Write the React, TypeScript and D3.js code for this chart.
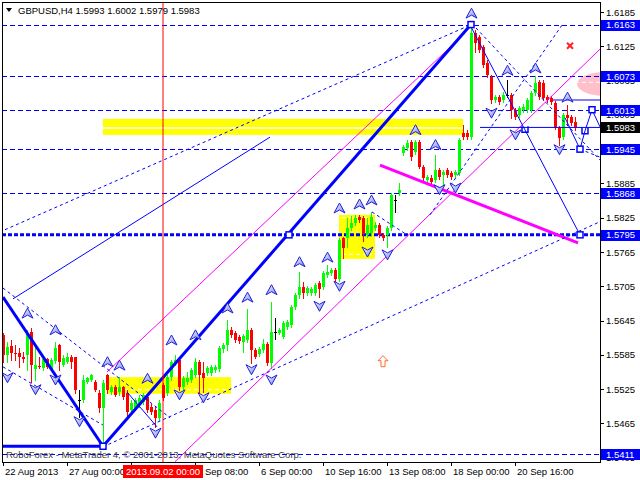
import * as d3 from 'd3';

// GBPUSD H4 candles (bar 0 = 22 Aug 2013 00:00)
const opens = [
  1.5620, 1.5585, 1.5601, 1.5588, 1.5588, 1.5581, 1.5585, 1.5625, 1.5560, 1.5566,
  1.5562, 1.5578, 1.5560, 1.5574, 1.5602, 1.5567, 1.5573, 1.5581, 1.5581, 1.5506,
  1.5506, 1.5538, 1.5541, 1.5538, 1.5518, 1.5492, 1.5550, 1.5520, 1.5529, 1.5520,
  1.5529, 1.5518, 1.5489, 1.5492, 1.5497, 1.5503, 1.5511, 1.5494, 1.5489, 1.5475,
  1.5532, 1.5518, 1.5546, 1.5571, 1.5576, 1.5529, 1.5538, 1.5541, 1.5550, 1.5573,
  1.5553, 1.5553, 1.5553, 1.5559, 1.5560, 1.5595, 1.5602, 1.5628, 1.5623, 1.5616,
  1.5608, 1.5611, 1.5628, 1.5594, 1.5587, 1.5594, 1.5604, 1.5571, 1.5625, 1.5623,
  1.5616, 1.5634, 1.5637, 1.5669, 1.5690, 1.5704, 1.5693, 1.5693, 1.5693, 1.5711,
  1.5704, 1.5725, 1.5728, 1.5734, 1.5718, 1.5790, 1.5790, 1.5807, 1.5816, 1.5826,
  1.5825, 1.5795, 1.5798, 1.5807, 1.5812, 1.5795, 1.5795, 1.5807, 1.5856, 1.5868,
  1.5938, 1.5947, 1.5958, 1.5940, 1.5958, 1.5914, 1.5891, 1.5895, 1.5891, 1.5909,
  1.5900, 1.5909, 1.5903, 1.5900, 1.5903, 1.5973, 1.5973, 1.5966, 1.6148, 1.6141,
  1.6124, 1.6096, 1.6071, 1.6031, 1.6036, 1.6031, 1.6040, 1.6040, 1.6014, 1.6005,
  1.6014, 1.6014, 1.6014, 1.6043, 1.6063, 1.6061, 1.6036, 1.6035, 1.6026, 1.5982,
  1.5966, 1.6005, 1.6001, 1.5993,
];
const highs = [
  1.5623, 1.5608, 1.5611, 1.5602, 1.5597, 1.5590, 1.5628, 1.5632, 1.5599, 1.5581,
  1.5581, 1.5580, 1.5580, 1.5608, 1.5604, 1.5585, 1.5588, 1.5585, 1.5582, 1.5524,
  1.5550, 1.5546, 1.5552, 1.5541, 1.5524, 1.5541, 1.5551, 1.5532, 1.5532, 1.5546,
  1.5531, 1.5524, 1.5506, 1.5510, 1.5515, 1.5518, 1.5515, 1.5499, 1.5494, 1.5506,
  1.5536, 1.5550, 1.5576, 1.5585, 1.5580, 1.5548, 1.5555, 1.5562, 1.5580, 1.5576,
  1.5573, 1.5566, 1.5567, 1.5567, 1.5601, 1.5606, 1.5646, 1.5634, 1.5627, 1.5620,
  1.5622, 1.5665, 1.5632, 1.5597, 1.5599, 1.5613, 1.5608, 1.5678, 1.5650, 1.5632,
  1.5644, 1.5646, 1.5672, 1.5693, 1.5730, 1.5713, 1.5706, 1.5704, 1.5711, 1.5714,
  1.5732, 1.5742, 1.5737, 1.5737, 1.5790, 1.5791, 1.5825, 1.5828, 1.5830, 1.5830,
  1.5828, 1.5825, 1.5835, 1.5818, 1.5816, 1.5798, 1.5811, 1.5868, 1.5865, 1.5886,
  1.5952, 1.5961, 1.5961, 1.5961, 1.5961, 1.5917, 1.5900, 1.5900, 1.5935, 1.5912,
  1.5909, 1.5912, 1.5907, 1.5909, 1.5965, 1.5987, 1.5978, 1.6163, 1.6154, 1.6145,
  1.6127, 1.6101, 1.6075, 1.6040, 1.6040, 1.6045, 1.6066, 1.6043, 1.6017, 1.6021,
  1.6024, 1.6034, 1.6047, 1.6073, 1.6066, 1.6066, 1.6040, 1.6038, 1.6029, 1.5986,
  1.6008, 1.6022, 1.6005, 1.6002,
];
const lows = [
  1.5573, 1.5573, 1.5576, 1.5576, 1.5564, 1.5573, 1.5559, 1.5538, 1.5541, 1.5562,
  1.5559, 1.5562, 1.5559, 1.5571, 1.5559, 1.5565, 1.5571, 1.5562, 1.5518, 1.5476,
  1.5503, 1.5536, 1.5539, 1.5522, 1.5485, 1.5422, 1.5518, 1.5517, 1.5513, 1.5515,
  1.5508, 1.5478, 1.5485, 1.5489, 1.5494, 1.5499, 1.5485, 1.5482, 1.5459, 1.5471,
  1.5506, 1.5515, 1.5541, 1.5567, 1.5524, 1.5526, 1.5534, 1.5538, 1.5546, 1.5518,
  1.5520, 1.5550, 1.5550, 1.5555, 1.5557, 1.5590, 1.5594, 1.5616, 1.5608, 1.5606,
  1.5590, 1.5608, 1.5571, 1.5580, 1.5583, 1.5590, 1.5567, 1.5562, 1.5613, 1.5621,
  1.5614, 1.5630, 1.5634, 1.5665, 1.5685, 1.5685, 1.5690, 1.5690, 1.5690, 1.5686,
  1.5700, 1.5721, 1.5725, 1.5714, 1.5714, 1.5755, 1.5774, 1.5804, 1.5812, 1.5818,
  1.5784, 1.5791, 1.5795, 1.5804, 1.5791, 1.5786, 1.5774, 1.5804, 1.5835, 1.5865,
  1.5935, 1.5944, 1.5926, 1.5937, 1.5912, 1.5891, 1.5888, 1.5884, 1.5888, 1.5893,
  1.5882, 1.5896, 1.5893, 1.5896, 1.5900, 1.5963, 1.5963, 1.5963, 1.6115, 1.6115,
  1.6089, 1.6071, 1.6026, 1.6027, 1.6024, 1.6027, 1.6036, 1.6000, 1.5998, 1.6001,
  1.6010, 1.6010, 1.6010, 1.6040, 1.6033, 1.6031, 1.6027, 1.6024, 1.5980, 1.5952,
  1.5963, 1.5988, 1.5988, 1.5979,
];
const closes = [
  1.5585, 1.5599, 1.5588, 1.5587, 1.5581, 1.5578, 1.5623, 1.5567, 1.5567, 1.5564,
  1.5578, 1.5564, 1.5576, 1.5597, 1.5573, 1.5580, 1.5581, 1.5573, 1.5524, 1.5506,
  1.5541, 1.5545, 1.5550, 1.5524, 1.5492, 1.5536, 1.5524, 1.5529, 1.5515, 1.5529,
  1.5511, 1.5485, 1.5501, 1.5506, 1.5510, 1.5515, 1.5489, 1.5485, 1.5475, 1.5501,
  1.5510, 1.5546, 1.5573, 1.5576, 1.5529, 1.5545, 1.5545, 1.5559, 1.5573, 1.5550,
  1.5545, 1.5562, 1.5564, 1.5564, 1.5597, 1.5602, 1.5628, 1.5620, 1.5611, 1.5609,
  1.5618, 1.5628, 1.5594, 1.5581, 1.5595, 1.5604, 1.5571, 1.5625, 1.5625, 1.5628,
  1.5641, 1.5643, 1.5669, 1.5690, 1.5704, 1.5693, 1.5702, 1.5700, 1.5707, 1.5700,
  1.5728, 1.5730, 1.5734, 1.5718, 1.5786, 1.5772, 1.5807, 1.5816, 1.5825, 1.5821,
  1.5798, 1.5812, 1.5826, 1.5812, 1.5795, 1.5790, 1.5807, 1.5865, 1.5856, 1.5874,
  1.5949, 1.5956, 1.5931, 1.5958, 1.5914, 1.5895, 1.5896, 1.5888, 1.5909, 1.5896,
  1.5905, 1.5900, 1.5896, 1.5905, 1.5961, 1.5966, 1.5966, 1.6148, 1.6131, 1.6119,
  1.6092, 1.6075, 1.6031, 1.6036, 1.6027, 1.6040, 1.6040, 1.6014, 1.6001, 1.6017,
  1.6019, 1.6031, 1.6043, 1.6061, 1.6036, 1.6035, 1.6031, 1.6027, 1.5984, 1.5965,
  1.6005, 1.6000, 1.5991, 1.5983,
];

const priceTicks = [
  1.6185, 1.6125, 1.6065, 1.6005, 1.5945, 1.5885, 1.5825,
  1.5765, 1.5705, 1.5645, 1.5585, 1.5525, 1.5465, 1.5405,
];
const timeTickBars = [0, 16, 32, 48, 64, 80, 96, 112, 128];
// the label at bar 32 sits under the crosshair date box, so it is left blank
const timeTickLabels = [
  '22 Aug 2013', '27 Aug 00:00', '', '2 Sep 08:00', '6 Sep 00:00',
  '10 Sep 16:00', '13 Sep 08:00', '18 Sep 00:00', '20 Sep 16:00',
];

// horizontal levels with blue labels on the price scale
const levelPrices = [1.6163, 1.6073, 1.6013, 1.5945, 1.5868, 1.5411];
const keyLevel = 1.5795;
const bidPrice = 1.5983;
const crossBar = 40;
const crossLabel = '2013.09.02 00:00';

// [bar1, price1, bar2, price2]
const thickBlueLines = [
  [0, 1.5686, 25, 1.5425],
  [-0.25, 1.5425, 25, 1.5425],
  [25, 1.5425, 117, 1.6163],
];
const thinBlueLines = [
  [2.5, 1.5683, 66.75, 1.5966],
  [117, 1.6159, 144.25, 1.5795],
  [119.25, 1.5983, 149.25, 1.5983],
  [137.5, 1.6031, 149.25, 1.6031],
  [31, 1.5520, 38.5, 1.5459],
];
const dashedBlueLines = [
  [0.5, 1.5804, 116.75, 1.6162],
  [25, 1.5424, 149.25, 1.5818],
  [0, 1.5702, 41.75, 1.5475],
  [0, 1.5564, 25, 1.5462],
  [118.25, 1.6157, 149.25, 1.5926],
  [106.75, 1.5830, 139.75, 1.6162],
  [92.25, 1.5835, 101, 1.5795],
  [144.25, 1.5945, 149.25, 1.5931],
];
const magentaLines = [
  [26, 1.5555, 115.5, 1.6148],
  [43, 1.5398, 149.25, 1.6120],
];
const magentaThick = [94.25, 1.5917, 143.75, 1.5781];
const projectionBars = [140.5, 144.25, 145.5, 147.25, 149.25];
const projectionPrices = [1.6000, 1.5945, 1.5977, 1.6014, 1.5984];

// [barFrom, priceTop, barTo, priceBottom]
const yellowZones = [
  [25, 1.5998, 115, 1.5970],
  [26, 1.5546, 57, 1.5517],
  [84, 1.5830, 93, 1.5753],
];
const whiteDashes = [
  [26, 1.5524, 57],
  [84, 1.5825, 93],
  [84, 1.5761, 93],
];

const upArrowBars = [6, 13, 26, 29, 36, 42, 48, 56, 61, 67, 74, 81, 84, 89, 92, 103, 108, 117, 126, 133, 141];
const upArrowPrices = [
  1.5658, 1.5629, 1.5573, 1.5567, 1.5544, 1.5611, 1.5620, 1.5667, 1.5686, 1.5699, 1.5748,
  1.5756, 1.5842, 1.5849, 1.5856, 1.5979, 1.5953, 1.6183, 1.6083, 1.6087, 1.6036,
];
const downArrowBars = [1, 8, 13, 19, 38, 44, 50, 62, 67, 79, 84, 91, 96, 109, 113, 122, 128, 139];
const downArrowPrices = [
  1.5545, 1.5524, 1.5541, 1.5468, 1.5448, 1.5515, 1.5510, 1.5559, 1.5541, 1.5670,
  1.5705, 1.5765, 1.5760, 1.5874, 1.5877, 1.6008, 1.5970, 1.5944,
];
const boxBars = [25, 71.5, 117, 144.25, 147.25, 144.25];
const boxPrices = [1.5425, 1.5795, 1.6163, 1.5795, 1.6014, 1.5945];
const bracketBars = [130.5, 145.5];
const bracketPrices = [1.5980, 1.5977];

const FONT = 'Liberation Sans, Arial, sans-serif';
const BLUE = '#0000ff';

export default function App() {
  const x = d3.scaleLinear().domain([-0.25, 149.25]).range([2, 600]);
  const y = d3.scaleLinear().domain([1.53975, 1.62025]).range([462, 2]);
  const seg = (l: number[]) => ({ x1: x(l[0]), y1: y(l[1]), x2: x(l[2]), y2: y(l[3]) });
  const projPath = d3.line<number>()
    .x((_, i) => x(projectionBars[i]))
    .y((d) => y(d))(projectionPrices) || '';

  return (
    <svg
      width={640}
      height={480}
      style={{ position: 'fixed', left: 0, top: 0, background: '#fff' }}
      fontFamily={FONT}
    >
      <defs>
        <clipPath id="plot">
          <rect x={2} y={2} width={598} height={460} />
        </clipPath>
        <linearGradient id="arrowFill" x1="0" y1="0" x2="1" y2="1">
          <stop offset="0" stopColor="#ffffff" />
          <stop offset="1" stopColor="#6f7cff" />
        </linearGradient>
      </defs>
      <rect width={640} height={480} fill="#fff" />

      <g clipPath="url(#plot)">
        {/* background zones */}
        {yellowZones.map((z, i) => (
          <rect key={i} x={x(z[0])} y={y(z[1])} width={x(z[2]) - x(z[0])}
            height={y(z[3]) - y(z[1])} fill="#ffff00" />
        ))}
        <line x1={x(25)} x2={x(115)} y1={y(bidPrice) + 0.5} y2={y(bidPrice) + 0.5}
          stroke="#fff" strokeWidth={1.5} />
        {whiteDashes.map((w, i) => (
          <line key={i} x1={x(w[0]) + 3} x2={x(w[2]) - 3} y1={y(w[1])} y2={y(w[1])}
            stroke="#fff" strokeDasharray="4,3" />
        ))}
        <ellipse cx={x(150.5)} cy={y(1.6059)} rx={x(157.5) - x(150.5)} ry={y(1.6038) - y(1.6059)}
          fill="#ffc0cb" />
        <line x1={x(143)} x2={x(149.25)} y1={y(1.6062)} y2={y(1.6062)} stroke="#fff" strokeDasharray="4,3" />

        {/* horizontal levels */}
        {levelPrices.map((p) => (
          <line key={p} x1={2} x2={600} y1={Math.round(y(p)) + 0.5} y2={Math.round(y(p)) + 0.5}
            stroke={BLUE} strokeDasharray="5,3" />
        ))}
        <line x1={2} x2={600} y1={y(keyLevel)} y2={y(keyLevel)} stroke={BLUE}
          strokeWidth={3} strokeDasharray="4,2" />

        {/* candles */}
        {opens.map((o, i) => {
          const c = closes[i];
          const col = c > o ? '#00ff00' : c < o ? '#ff0000' : '#000000';
          const cx = Math.round(x(i));
          const top = Math.round(y(Math.max(o, c)));
          const bot = Math.round(y(Math.min(o, c)));
          return (
            <g key={i} shapeRendering="crispEdges">
              <line x1={cx + 0.5} x2={cx + 0.5} y1={Math.round(y(highs[i]))}
                y2={Math.round(y(lows[i])) + 1} stroke={col} />
              {bot - top < 1 ? (
                <line x1={cx - 1} x2={cx + 2} y1={top + 0.5} y2={top + 0.5} stroke={col} />
              ) : (
                <rect x={cx - 1} y={top} width={3} height={bot - top} fill={col} />
              )}
            </g>
          );
        })}

        {/* drawn objects */}
        {magentaLines.map((l, i) => (
          <line key={i} {...seg(l)} stroke="#ff00ff" strokeWidth={1} />
        ))}
        <line {...seg(magentaThick)} stroke="#ff00ff" strokeWidth={3} />
        {dashedBlueLines.map((l, i) => (
          <line key={i} {...seg(l)} stroke={BLUE} strokeDasharray="3,3" />
        ))}
        {thinBlueLines.map((l, i) => (
          <line key={i} {...seg(l)} stroke={BLUE} />
        ))}
        <path d={projPath} fill="none" stroke={BLUE} />
        {thickBlueLines.map((l, i) => (
          <line key={i} {...seg(l)} stroke={BLUE} strokeWidth={3} />
        ))}
        {boxBars.map((b, i) => (
          <rect key={i} x={x(b) - 3} y={y(boxPrices[i]) - 3} width={6} height={6}
            fill="#fff" stroke={BLUE} strokeWidth={1.5} />
        ))}
        {bracketBars.map((b, i) => (
          <path key={i}
            d={`M${x(b) - 3},${y(bracketPrices[i]) - 3}V${y(bracketPrices[i]) + 3}H${x(b) + 3}V${y(bracketPrices[i]) - 3}`}
            fill="none" stroke={BLUE} strokeWidth={1.5} />
        ))}

        {/* fractal arrows */}
        {upArrowBars.map((b, i) => (
          <path key={i} transform={`translate(${x(b) + 0.5},${y(upArrowPrices[i])})`}
            d="M0,-5 L5.5,5 L0,2 L-5.5,5 Z" fill="url(#arrowFill)" stroke="#2020d0" strokeWidth={1} />
        ))}
        {downArrowBars.map((b, i) => (
          <path key={i} transform={`translate(${x(b) + 0.5},${y(downArrowPrices[i])})`}
            d="M0,5 L5.5,-5 L0,-2 L-5.5,-5 Z" fill="url(#arrowFill)" stroke="#2020d0" strokeWidth={1} />
        ))}
        <path transform={`translate(${x(95)},${y(1.5573)})`}
          d="M0,-6 L5,-1 L2,-1 L2,5 L-2,5 L-2,-1 L-5,-1 Z" fill="#fff" stroke="#ff6a2a" strokeWidth={1} />
        <g transform={`translate(${x(141.75)},${y(1.6126)})`} stroke="#ff2020" strokeWidth={2}>
          <line x1={-3} y1={-3} x2={3} y2={3} />
          <line x1={-3} y1={3} x2={3} y2={-3} />
        </g>

        {/* crosshair */}
        <line x1={x(crossBar)} x2={x(crossBar)} y1={2} y2={462} stroke="#ff0000" />
      </g>

      {/* frame */}
      <rect x={2.5} y={2.5} width={597.5} height={459.5} fill="none" stroke="#000" shapeRendering="crispEdges" />

      {/* header + copyright */}
      <path d="M6,8 L12,8 L9,12 Z" fill="#000" />
      <text x={18} y={14} fontSize={9.5} fill="#000">GBPUSD,H4  1.5993 1.6002 1.5979 1.5983</text>
      <text x={6} y={458} fontSize={9.5} fill="#404040">
        RoboForex - MetaTrader 4, © 2001-2013, MetaQuotes Software Corp.
      </text>

      {/* price axis */}
      {priceTicks.map((p) => (
        <g key={p}>
          <line x1={600} x2={604} y1={Math.round(y(p)) + 0.5} y2={Math.round(y(p)) + 0.5} stroke="#000" />
          <text x={606} y={y(p) + 3.5} fontSize={9.5} fill="#000">{p.toFixed(4)}</text>
        </g>
      ))}
      {levelPrices.concat([keyLevel]).map((p) => (
        <g key={p}>
          <rect x={601} y={Math.round(y(p)) - 5} width={39} height={11} fill={BLUE} />
          <text x={606} y={y(p) + 3.5} fontSize={9.5} fill="#fff">{p.toFixed(4)}</text>
        </g>
      ))}
      <rect x={601} y={Math.round(y(bidPrice)) - 5} width={39} height={11} fill="#000" />
      <text x={606} y={y(bidPrice) + 3.5} fontSize={9.5} fill="#fff">{bidPrice.toFixed(4)}</text>

      {/* time axis */}
      {timeTickBars.map((b, i) => (
        <g key={b}>
          <line x1={Math.round(x(b)) + 0.5} x2={Math.round(x(b)) + 0.5} y1={462} y2={466} stroke="#000" />
          {timeTickLabels[i] && (
            <text x={Math.round(x(b)) + 2} y={475} fontSize={9.5} fill="#000">{timeTickLabels[i]}</text>
          )}
        </g>
      ))}
      <rect x={x(crossBar) - 40} y={465} width={80} height={13} fill="#ff0000" />
      <text x={x(crossBar)} y={475} fontSize={9.5} fill="#fff" textAnchor="middle">{crossLabel}</text>
    </svg>
  );
}
